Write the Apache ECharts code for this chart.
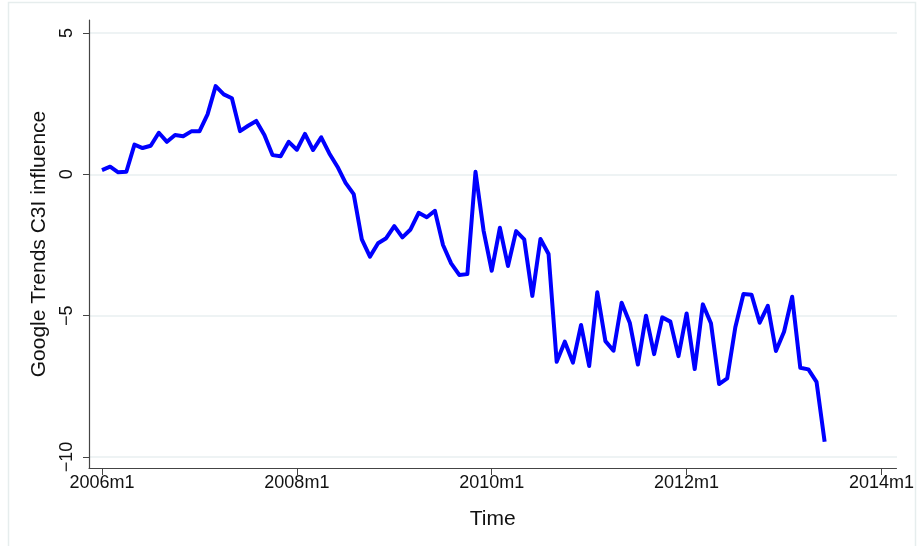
<!DOCTYPE html>
<html>
<head>
<meta charset="utf-8">
<script src="https://cdn.jsdelivr.net/npm/echarts@6.0.0/dist/echarts.min.js"></script>
<style>
html,body{margin:0;padding:0;background:#fff;}
#chart{width:917px;height:546px;}
</style>
</head>
<body>
<div id="chart"></div>
<script>
// Monthly index (0 = 2006m1)
var startYear = 2006;
var values = [
  0.15, 0.27, 0.07, 0.09, 1.05, 0.93, 1.01, 1.47, 1.15, 1.39, 1.35, 1.52,
  1.52, 2.12, 3.12, 2.83, 2.69, 1.53, 1.72, 1.89, 1.39, 0.68, 0.64, 1.15,
  0.87, 1.43, 0.86, 1.31, 0.74, 0.27, -0.30, -0.70, -2.30, -2.91, -2.44, -2.26,
  -1.83, -2.23, -1.95, -1.36, -1.52, -1.29, -2.50, -3.15, -3.56, -3.53, 0.09, -2.00,
  -3.41, -1.89, -3.24, -2.01, -2.30, -4.30, -2.29, -2.82, -6.63, -5.92, -6.66, -5.33,
  -6.78, -4.17, -5.90, -6.24, -4.54, -5.25, -6.73, -5.00, -6.36, -5.06, -5.21, -6.43,
  -4.92, -6.89, -4.60, -5.27, -7.42, -7.22, -5.41, -4.23, -4.26, -5.25, -4.65, -6.25,
  -5.57, -4.33, -6.84, -6.90, -7.34, -9.46
];
var xTickValues = [0, 24, 48, 72, 96];
var xTickLabels = ['2006m1', '2008m1', '2010m1', '2012m1', '2014m1'];
var yTickValues = [-10, -5, 0, 5];
var yTickLabels = ['\u221210', '\u22125', '0', '5'];

var months = values.map(function (v, i) {
  return (startYear + Math.floor(i / 12)) + 'm' + (i % 12 + 1);
});
var seriesData = values.map(function (v, i) { return [i, v]; });

var font = '"Liberation Sans", Arial, Helvetica, sans-serif';
var chart = echarts.init(document.getElementById('chart'), null, {renderer: 'canvas'});
chart.setOption({
  animation: false,
  backgroundColor: '#ffffff',
  graphic: [{
    type: 'rect',
    shape: {x: 8.5, y: 2.5, width: 907, height: 600},
    style: {fill: 'none', stroke: '#e6eded', lineWidth: 1.5},
    z: -10
  }],
  grid: [
    {left: 89, right: 20, top: 20, bottom: 78},
    {left: 89, right: 20, top: 33, bottom: 89}
  ],
  xAxis: [{
    type: 'value',
    gridIndex: 0,
    min: -1.6,
    max: 97.846,
    axisLine: {show: true, onZero: false, lineStyle: {color: '#444', width: 1.2}},
    axisTick: {show: true, length: 7, lineStyle: {color: '#444', width: 1}, customValues: xTickValues},
    axisLabel: {
      show: true, customValues: xTickValues, color: '#111', fontSize: 18, fontFamily: font, margin: 6,
      formatter: function (v) { var k = xTickValues.indexOf(Math.round(v)); return k >= 0 ? xTickLabels[k] : ''; }
    },
    splitLine: {show: false},
    name: 'Time',
    nameLocation: 'middle',
    nameGap: 41,
    nameTextStyle: {color: '#111', fontSize: 21, fontFamily: font}
  }, {
    type: 'value',
    gridIndex: 1,
    min: 0, max: 1,
    show: false
  }],
  yAxis: [{
    type: 'value',
    gridIndex: 0,
    min: -10.389,
    max: 5.46,
    axisLine: {show: true, onZero: false, lineStyle: {color: '#444', width: 1.2}},
    axisTick: {show: true, length: 6, lineStyle: {color: '#444', width: 1}, customValues: yTickValues},
    axisLabel: {
      show: true, customValues: yTickValues, rotate: 90, color: '#111', fontSize: 18, fontFamily: font, margin: 13,
      formatter: function (v) { var k = yTickValues.indexOf(Math.round(v)); return k >= 0 ? yTickLabels[k] : ''; }
    },
    splitLine: {show: false},
    name: 'Google Trends C3I influence',
    nameLocation: 'middle',
    nameGap: 33,
    nameTextStyle: {color: '#111', fontSize: 21, fontFamily: font}
  }, {
    type: 'value',
    gridIndex: 1,
    min: -10, max: 5, interval: 5,
    axisLine: {show: false},
    axisTick: {show: false},
    axisLabel: {show: false},
    splitLine: {show: true, lineStyle: {color: '#e8eff0', width: 1.5}}
  }],
  series: [{
    type: 'line',
    name: 'C3I',
    xAxisIndex: 0,
    yAxisIndex: 0,
    data: seriesData,
    showSymbol: false,
    symbol: 'none',
    lineStyle: {color: '#0000ff', width: 4, join: 'round'},
    z: 5
  }]
});
</script>
</body>
</html>
